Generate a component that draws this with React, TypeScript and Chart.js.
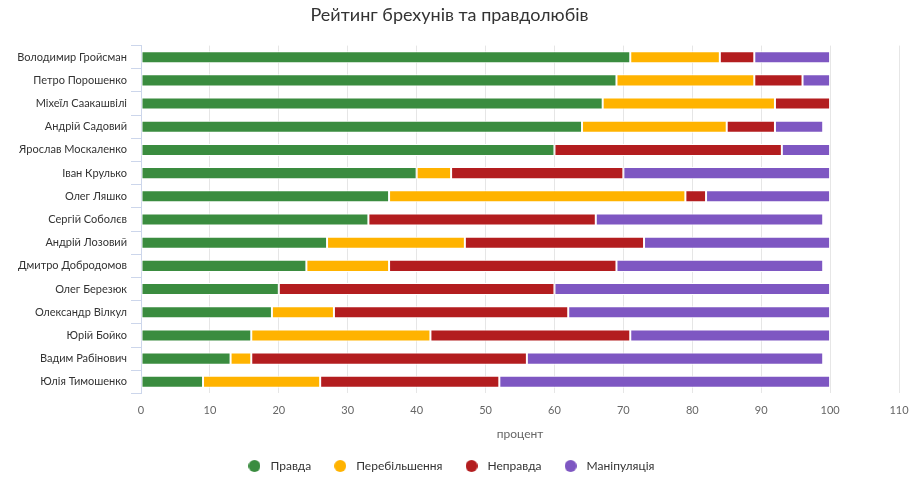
import React, { useEffect, useRef } from "react";
import { Chart, registerables } from "chart.js";

Chart.register(...registerables);

const categories = [
  "Володимир Гройсман",
  "Петро Порошенко",
  "Міхеїл Саакашвілі",
  "Андрій Садовий",
  "Ярослав Москаленко",
  "Іван Крулько",
  "Олег Ляшко",
  "Сергій Соболєв",
  "Андрій Лозовий",
  "Дмитро Добродомов",
  "Олег Березюк",
  "Олександр Вілкул",
  "Юрій Бойко",
  "Вадим Рабінович",
  "Юлія Тимошенко",
];

const pravda = [71, 69, 67, 64, 60, 40, 36, 33, 27, 24, 20, 19, 16, 13, 9];
const perebilshennia = [13, 20, 25, 21, 0, 5, 43, 0, 20, 12, 0, 9, 26, 3, 17];
const nepravda = [5, 7, 8, 7, 33, 25, 3, 33, 26, 33, 40, 34, 29, 40, 26];
const manipuliatsiia = [11, 4, 0, 7, 7, 30, 18, 33, 27, 30, 40, 38, 29, 43, 48];

const xTicks = [0, 10, 20, 30, 40, 50, 60, 70, 80, 90, 100, 110];

const FONT = "Lato, 'Noto Sans', sans-serif";

function dot(color: string): HTMLCanvasElement {
  const c = document.createElement("canvas");
  c.width = 12;
  c.height = 12;
  const g = c.getContext("2d");
  if (g) {
    g.fillStyle = color;
    g.beginPath();
    g.arc(6, 6, 6, 0, Math.PI * 2);
    g.fill();
  }
  return c;
}

export default function App() {
  const ref = useRef<HTMLCanvasElement | null>(null);

  useEffect(() => {
    document.body.style.margin = "0";
    const ctx = ref.current;
    if (!ctx) return;
    const mk = (label: string, data: number[], color: string) => ({
      label,
      data,
      backgroundColor: color,
      borderColor: "#ffffff",
      borderWidth: 1,
      borderSkipped: false as const,
      barPercentage: 0.52,
      categoryPercentage: 1,
    });
    const defaultGen = (Chart.defaults.plugins.legend.labels as any).generateLabels;
    const chart = new Chart(ctx, {
      type: "bar",
      data: {
        labels: categories,
        datasets: [
          mk("Правда", pravda, "#3a8c3f"),
          mk("Перебільшення", perebilshennia, "#ffb300"),
          mk("Неправда", nepravda, "#b31d1f"),
          mk("Маніпуляція", manipuliatsiia, "#7e57c2"),
        ],
      },
      options: {
        indexAxis: "y",
        animation: false,
        responsive: true,
        maintainAspectRatio: false,
        layout: { padding: { left: 0, right: 20, top: 4, bottom: 6 } },
        plugins: {
          title: {
            display: true,
            text: "Рейтинг брехунів та правдолюбів",
            color: "#333333",
            font: { family: FONT, size: 18, weight: "normal" },
            padding: { top: 0, bottom: 20 },
          },
          legend: {
            position: "bottom",
            labels: {
              usePointStyle: true,
              pointStyleWidth: 20,
              boxHeight: 12,
              padding: 19,
              color: "#333333",
              font: { family: FONT, size: 12 },
              generateLabels: (ch: any) =>
                defaultGen(ch).map((it: any) => ({
                  ...it,
                  pointStyle: dot(ch.data.datasets[it.datasetIndex].backgroundColor),
                })),
            },
          },
          tooltip: { enabled: false },
        },
        scales: {
          x: {
            stacked: true,
            min: 0,
            max: 110,
            afterBuildTicks: (s: any) => {
              s.ticks = xTicks.map((v) => ({ value: v }));
            },
            ticks: {
              color: "#666666",
              font: { family: FONT, size: 11 },
              padding: 10,
            },
            grid: {
              color: "#e6e6e6",
              drawTicks: false,
            },
            border: { display: false },
            title: {
              display: true,
              text: "процент",
              color: "#666666",
              font: { family: FONT, size: 12 },
              padding: { top: 0, bottom: 0 },
            },
          },
          y: {
            stacked: true,
            afterFit: (s: any) => {
              s.width = 141;
            },
            ticks: {
              color: "#333333",
              font: { family: FONT, size: 11 },
              padding: 4,
            },
            grid: {
              drawOnChartArea: false,
              color: "#ccd6eb",
              tickLength: 10,
            },
            border: { display: true, color: "#ccd6eb" },
          },
        },
      },
    });
    return () => chart.destroy();
  }, []);

  return (
    <div style={{ position: "relative", width: 919, height: 488 }}>
      <canvas ref={ref} />
    </div>
  );
}
